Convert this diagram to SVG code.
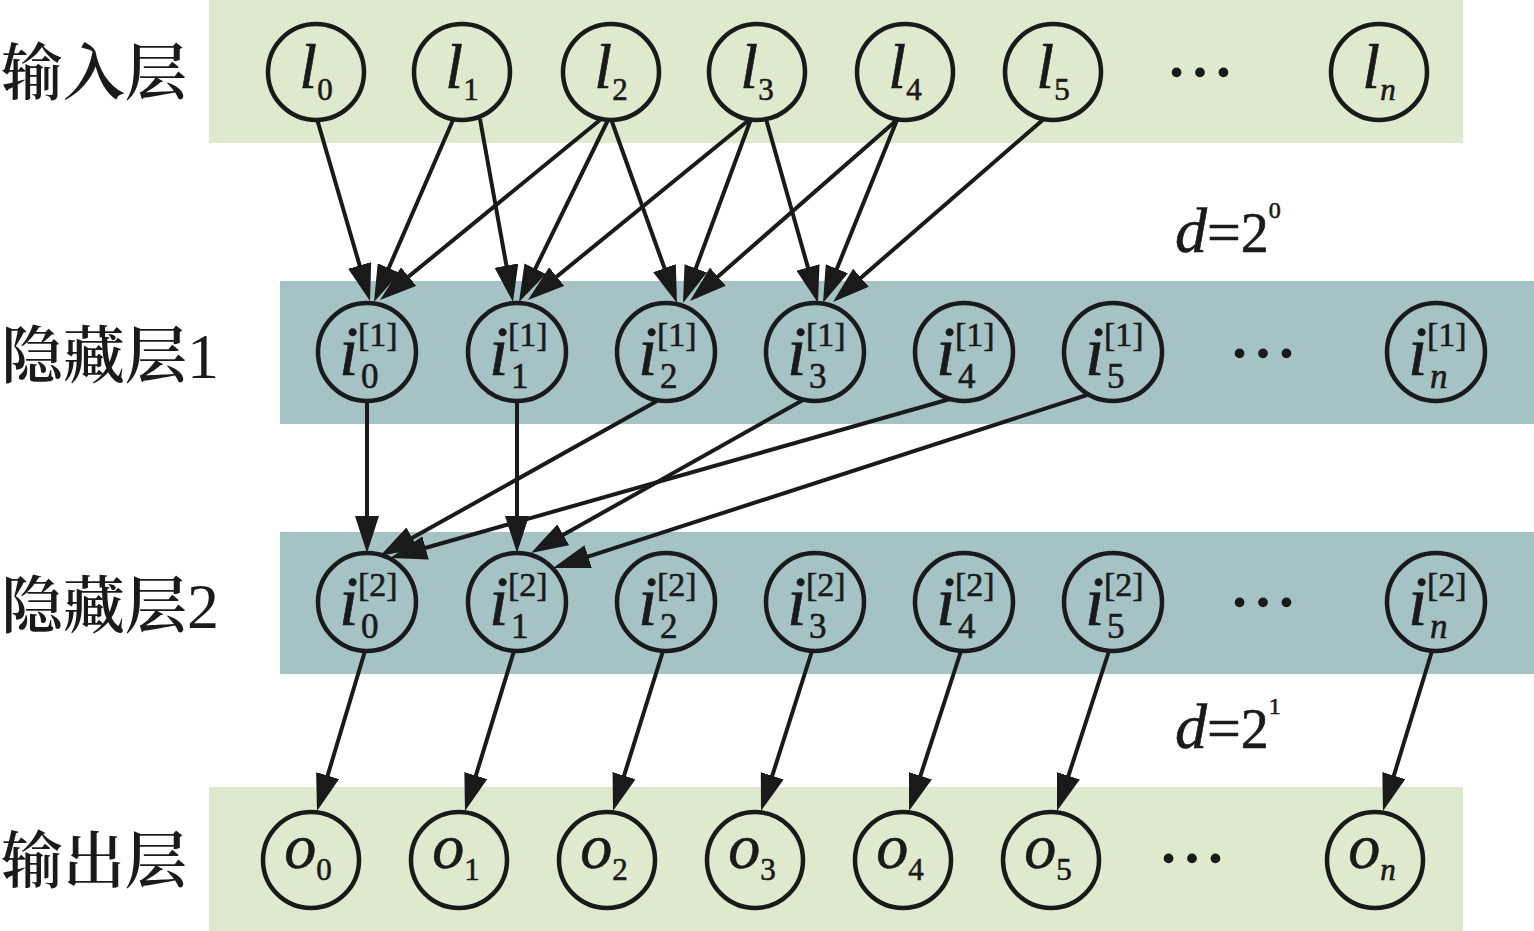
<svg xmlns="http://www.w3.org/2000/svg" width="1534" height="931" viewBox="0 0 1534 931">
<style>
.bg{fill:#dee9cd}
.bt{fill:#a5c3c4}
.node circle{fill:none;stroke:#1a1a1a;stroke-width:4.5}
.t{fill:#1a1a1a;stroke:#1a1a1a;stroke-width:0.6}
.m{font-size:64px}
.im{font-size:70px}
.it{font-style:italic}
.sub{font-size:31px}
.sup{font-size:34px}
.isub{font-size:35px}
.cj{font-size:62px;font-weight:600;fill:#1a1a1a}
.dots{font-size:70px;fill:#1a1a1a;stroke:#1a1a1a;stroke-width:1.5}
.c line{stroke:#1a1a1a;stroke-width:4;stroke-dasharray:0 10 4000;marker-start:url(#ah)}
</style>
<defs>
<marker id="ah" markerUnits="userSpaceOnUse" markerWidth="37" markerHeight="24" viewBox="0 0 37 24" refX="37" refY="12" orient="auto-start-reverse">
<path d="M0,0 L37,12 L0,24 z" fill="#1a1a1a"/>
</marker>
</defs>
<rect width="1534" height="931" fill="#ffffff"/>
<g id="bands">
<rect class="bg" x="209" y="0" width="1254" height="143"/>
<rect class="bt" x="280" y="281" width="1254" height="143"/>
<rect class="bt" x="280" y="532" width="1254" height="142"/>
<rect class="bg" x="209" y="787" width="1254" height="144"/>
</g>
<g id="layer-labels">
<text class="cj" x="1" y="95" font-family="Noto Serif CJK SC, Noto Sans CJK SC, serif">输入层</text>
<text class="cj" x="1" y="378" font-family="Noto Serif CJK SC, Noto Sans CJK SC, serif">隐藏层<tspan font-family="Liberation Serif, serif" font-weight="normal" font-size="64">1</tspan></text>
<text class="cj" x="1" y="628" font-family="Noto Serif CJK SC, Noto Sans CJK SC, serif">隐藏层<tspan font-family="Liberation Serif, serif" font-weight="normal" font-size="64">2</tspan></text>
<text class="cj" x="1" y="883" font-family="Noto Serif CJK SC, Noto Sans CJK SC, serif">输出层</text>
</g>
<g id="d-labels" font-family="Liberation Serif, serif">
<text class="t" x="1175" y="252"><tspan class="it" font-size="64">d</tspan><tspan font-size="60">=</tspan><tspan font-size="56">2</tspan><tspan font-size="24" dy="-34">0</tspan></text>
<text class="t" x="1175" y="748"><tspan class="it" font-size="64">d</tspan><tspan font-size="60">=</tspan><tspan font-size="56">2</tspan><tspan font-size="24" dy="-34">1</tspan></text>
</g>
<g id="ellipses" font-family="Liberation Serif, serif">
<text class="dots" x="1200" y="76" text-anchor="middle">…</text>
<text class="dots" x="1263" y="357" text-anchor="middle">…</text>
<text class="dots" x="1263" y="606" text-anchor="middle">…</text>
<text class="dots" x="1192" y="862" text-anchor="middle">…</text>
</g>
<g id="input-nodes" font-family="Liberation Serif, serif">
<g class="node" id="l0"><circle cx="316" cy="72" r="48"/><text class="t m" x="316" y="88" text-anchor="middle"><tspan class="it">l</tspan><tspan class="sub" dy="12">0</tspan></text></g>
<g class="node" id="l1"><circle cx="462" cy="72" r="48"/><text class="t m" x="462" y="88" text-anchor="middle"><tspan class="it">l</tspan><tspan class="sub" dy="12">1</tspan></text></g>
<g class="node" id="l2"><circle cx="611" cy="72" r="48"/><text class="t m" x="611" y="88" text-anchor="middle"><tspan class="it">l</tspan><tspan class="sub" dy="12">2</tspan></text></g>
<g class="node" id="l3"><circle cx="757" cy="72" r="48"/><text class="t m" x="757" y="88" text-anchor="middle"><tspan class="it">l</tspan><tspan class="sub" dy="12">3</tspan></text></g>
<g class="node" id="l4"><circle cx="905" cy="72" r="48"/><text class="t m" x="905" y="88" text-anchor="middle"><tspan class="it">l</tspan><tspan class="sub" dy="12">4</tspan></text></g>
<g class="node" id="l5"><circle cx="1053" cy="72" r="48"/><text class="t m" x="1053" y="88" text-anchor="middle"><tspan class="it">l</tspan><tspan class="sub" dy="12">5</tspan></text></g>
<g class="node" id="ln"><circle cx="1379" cy="72" r="48"/><text class="t m" x="1379" y="88" text-anchor="middle"><tspan class="it">l</tspan><tspan class="sub it" dy="12">n</tspan></text></g>
</g>
<g id="hidden1-nodes" font-family="Liberation Serif, serif">
<g class="node" id="h1-0"><circle cx="367" cy="352" r="49"/><text class="t im it" x="339" y="375">i</text><text class="t sup" x="358" y="346">[1]</text><text class="t isub" x="361" y="388">0</text></g>
<g class="node" id="h1-1"><circle cx="517" cy="352" r="49"/><text class="t im it" x="489" y="375">i</text><text class="t sup" x="508" y="346">[1]</text><text class="t isub" x="511" y="388">1</text></g>
<g class="node" id="h1-2"><circle cx="666" cy="352" r="49"/><text class="t im it" x="638" y="375">i</text><text class="t sup" x="657" y="346">[1]</text><text class="t isub" x="660" y="388">2</text></g>
<g class="node" id="h1-3"><circle cx="815" cy="352" r="49"/><text class="t im it" x="787" y="375">i</text><text class="t sup" x="806" y="346">[1]</text><text class="t isub" x="809" y="388">3</text></g>
<g class="node" id="h1-4"><circle cx="964" cy="352" r="49"/><text class="t im it" x="936" y="375">i</text><text class="t sup" x="955" y="346">[1]</text><text class="t isub" x="958" y="388">4</text></g>
<g class="node" id="h1-5"><circle cx="1113" cy="352" r="49"/><text class="t im it" x="1085" y="375">i</text><text class="t sup" x="1104" y="346">[1]</text><text class="t isub" x="1107" y="388">5</text></g>
<g class="node" id="h1-n"><circle cx="1436" cy="352" r="49"/><text class="t im it" x="1408" y="375">i</text><text class="t sup" x="1427" y="346">[1]</text><text class="t isub it" x="1430" y="388">n</text></g>
</g>
<g id="hidden2-nodes" font-family="Liberation Serif, serif">
<g class="node" id="h2-0"><circle cx="367" cy="602" r="49"/><text class="t im it" x="339" y="625">i</text><text class="t sup" x="358" y="596">[2]</text><text class="t isub" x="361" y="638">0</text></g>
<g class="node" id="h2-1"><circle cx="517" cy="602" r="49"/><text class="t im it" x="489" y="625">i</text><text class="t sup" x="508" y="596">[2]</text><text class="t isub" x="511" y="638">1</text></g>
<g class="node" id="h2-2"><circle cx="666" cy="602" r="49"/><text class="t im it" x="638" y="625">i</text><text class="t sup" x="657" y="596">[2]</text><text class="t isub" x="660" y="638">2</text></g>
<g class="node" id="h2-3"><circle cx="815" cy="602" r="49"/><text class="t im it" x="787" y="625">i</text><text class="t sup" x="806" y="596">[2]</text><text class="t isub" x="809" y="638">3</text></g>
<g class="node" id="h2-4"><circle cx="964" cy="602" r="49"/><text class="t im it" x="936" y="625">i</text><text class="t sup" x="955" y="596">[2]</text><text class="t isub" x="958" y="638">4</text></g>
<g class="node" id="h2-5"><circle cx="1113" cy="602" r="49"/><text class="t im it" x="1085" y="625">i</text><text class="t sup" x="1104" y="596">[2]</text><text class="t isub" x="1107" y="638">5</text></g>
<g class="node" id="h2-n"><circle cx="1436" cy="602" r="49"/><text class="t im it" x="1408" y="625">i</text><text class="t sup" x="1427" y="596">[2]</text><text class="t isub it" x="1430" y="638">n</text></g>
</g>
<g id="output-nodes" font-family="Liberation Serif, serif">
<g class="node" id="o0"><circle cx="311" cy="860" r="48"/><text class="t m" x="308" y="868" text-anchor="middle"><tspan class="it">o</tspan><tspan class="sub" dy="12">0</tspan></text></g>
<g class="node" id="o1"><circle cx="459" cy="860" r="48"/><text class="t m" x="456" y="868" text-anchor="middle"><tspan class="it">o</tspan><tspan class="sub" dy="12">1</tspan></text></g>
<g class="node" id="o2"><circle cx="607" cy="860" r="48"/><text class="t m" x="604" y="868" text-anchor="middle"><tspan class="it">o</tspan><tspan class="sub" dy="12">2</tspan></text></g>
<g class="node" id="o3"><circle cx="755" cy="860" r="48"/><text class="t m" x="752" y="868" text-anchor="middle"><tspan class="it">o</tspan><tspan class="sub" dy="12">3</tspan></text></g>
<g class="node" id="o4"><circle cx="903" cy="860" r="48"/><text class="t m" x="900" y="868" text-anchor="middle"><tspan class="it">o</tspan><tspan class="sub" dy="12">4</tspan></text></g>
<g class="node" id="o5"><circle cx="1051" cy="860" r="48"/><text class="t m" x="1048" y="868" text-anchor="middle"><tspan class="it">o</tspan><tspan class="sub" dy="12">5</tspan></text></g>
<g class="node" id="on"><circle cx="1375" cy="860" r="48"/><text class="t m" x="1372" y="868" text-anchor="middle"><tspan class="it">o</tspan><tspan class="sub it" dy="12">n</tspan></text></g>
</g>
<g id="connectors" class="c">
<line x1="370" y1="301" x2="317" y2="119"/>
<line x1="374" y1="302" x2="453" y2="120"/>
<line x1="380" y1="300" x2="600" y2="120"/>
<line x1="513" y1="302" x2="480" y2="119"/>
<line x1="519" y1="302" x2="608" y2="120"/>
<line x1="528" y1="300" x2="749" y2="120"/>
<line x1="677" y1="303" x2="611" y2="119"/>
<line x1="683" y1="303" x2="751" y2="119"/>
<line x1="690" y1="301" x2="898" y2="119"/>
<line x1="818" y1="303" x2="766" y2="119"/>
<line x1="823" y1="303" x2="897" y2="120"/>
<line x1="833" y1="302" x2="1045" y2="118"/>
<line x1="367" y1="553" x2="367" y2="401"/>
<line x1="380" y1="556" x2="657" y2="401"/>
<line x1="390" y1="558" x2="950" y2="399"/>
<line x1="517" y1="553" x2="517" y2="401"/>
<line x1="531" y1="553" x2="803" y2="400"/>
<line x1="553" y1="568" x2="1087" y2="395"/>
<line x1="317" y1="811" x2="365" y2="651"/>
<line x1="465" y1="811" x2="514" y2="651"/>
<line x1="613" y1="811" x2="663" y2="651"/>
<line x1="761" y1="811" x2="812" y2="651"/>
<line x1="909" y1="811" x2="961" y2="651"/>
<line x1="1057" y1="811" x2="1109" y2="651"/>
<line x1="1383" y1="811" x2="1432" y2="651"/>
</g>
</svg>
